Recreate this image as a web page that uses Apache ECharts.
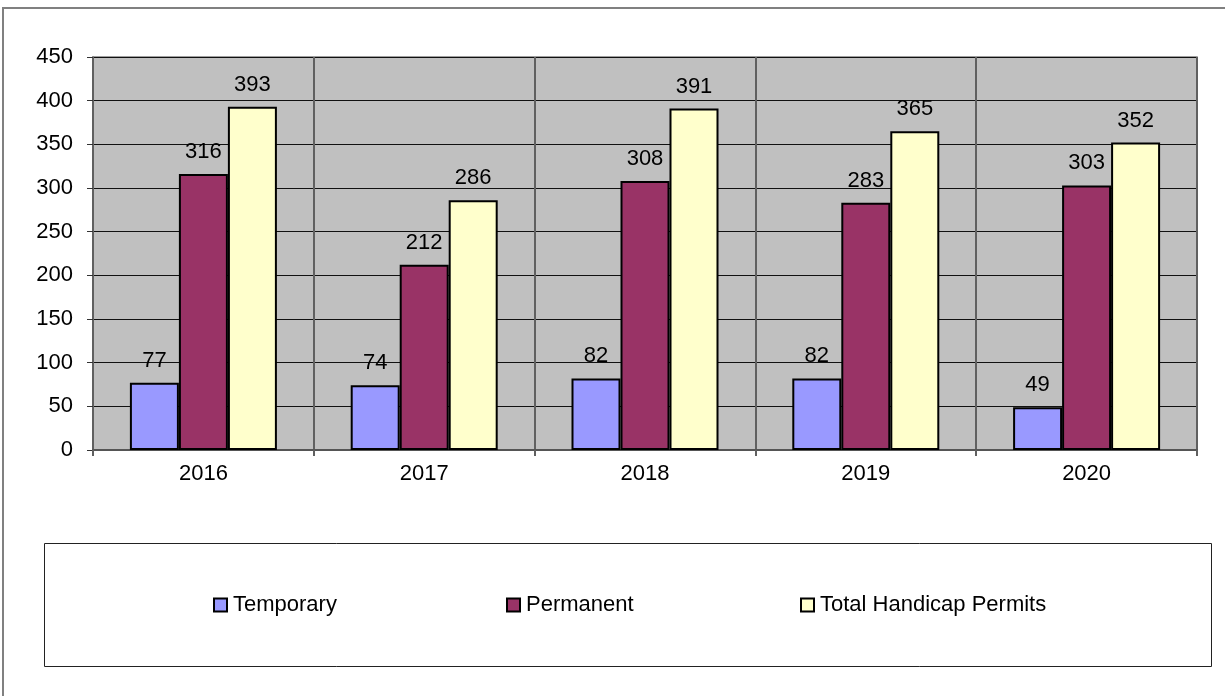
<!DOCTYPE html>
<html>
<head>
<meta charset="utf-8">
<script src="https://cdn.jsdelivr.net/npm/echarts@6/dist/echarts.min.js"></script>
<style>
html,body{margin:0;padding:0;background:#fff;}
#chart{width:1225px;height:696px;}
</style>
</head>
<body>
<div id="chart"></div>
<script>
var categories = ['2016', '2017', '2018', '2019', '2020'];
var temporary = [77, 74, 82, 82, 49];
var permanent = [316, 212, 308, 283, 303];
var totalPermits = [393, 286, 391, 365, 352];
var seriesNames = ['Temporary', 'Permanent', 'Total Handicap Permits'];
var colors = ['#9999ff', '#993366', '#ffffcc'];
var yMin = 0, yMax = 450, yInterval = 50;

var FONT = '"Liberation Sans", Arial, sans-serif';
var FS = 22;

var chart = echarts.init(document.getElementById('chart'), null, {renderer: 'canvas'});

function makeSeries(name, data, color) {
  return {
    name: name,
    type: 'bar',
    data: data,
    barWidth: 49,
    barGap: '0%',
    itemStyle: {color: color, borderColor: '#000', borderWidth: 2},
    label: {show: true, position: 'top', distance: 11, color: '#000', fontFamily: FONT, fontSize: FS},
    emphasis: {disabled: true}
  };
}

function makeLegend(name, left) {
  return {
    data: [{name: name, itemStyle: {borderColor: '#000', borderWidth: 2}}],
    left: left,
    top: 594,
    padding: 0,
    itemWidth: 13,
    itemHeight: 13,
    itemGap: 0,
    icon: 'rect',
    textStyle: {fontFamily: FONT, fontSize: FS, color: '#000', padding: [0,0,0,1]},
    selectedMode: false
  };
}

chart.setOption({
  animation: false,
  backgroundColor: '#fff',
  textStyle: {fontFamily: FONT},
  graphic: [
    {type: 'rect', shape: {x: 3, y: 8, width: 1300, height: 800}, style: {fill: 'none', stroke: '#808080', lineWidth: 2}, silent: true, z: -10},
    {type: 'rect', shape: {x: 44.5, y: 543.5, width: 1167, height: 123}, style: {fill: '#fff', stroke: '#222', lineWidth: 1}, silent: true, z: -5}
  ],
  legend: [
    makeLegend(seriesNames[0], 213),
    makeLegend(seriesNames[1], 506),
    makeLegend(seriesNames[2], 800)
  ],
  grid: {
    left: 93, top: 57, right: 28, bottom: 246,
    show: true, backgroundColor: '#c0c0c0', borderColor: '#808080', borderWidth: 1.5
  },
  xAxis: {
    type: 'category',
    data: categories,
    boundaryGap: true,
    axisLine: {show: true, lineStyle: {color: '#555', width: 2}},
    axisTick: {show: true, length: 6, lineStyle: {color: '#606060', width: 2}},
    splitLine: {show: true, lineStyle: {color: '#606060', width: 2}},
    axisLabel: {color: '#000', fontFamily: FONT, fontSize: FS, margin: 13}
  },
  yAxis: {
    type: 'value',
    min: yMin, max: yMax, interval: yInterval,
    axisLine: {show: true, lineStyle: {color: '#606060', width: 1.5}},
    axisTick: {show: true, length: 6, lineStyle: {color: '#333', width: 1}},
    splitLine: {show: true, lineStyle: {color: '#111', width: 1}},
    axisLabel: {color: '#000', fontFamily: FONT, fontSize: FS, margin: 20}
  },
  series: [
    makeSeries(seriesNames[0], temporary, colors[0]),
    makeSeries(seriesNames[1], permanent, colors[1]),
    makeSeries(seriesNames[2], totalPermits, colors[2])
  ]
});
</script>
</body>
</html>
